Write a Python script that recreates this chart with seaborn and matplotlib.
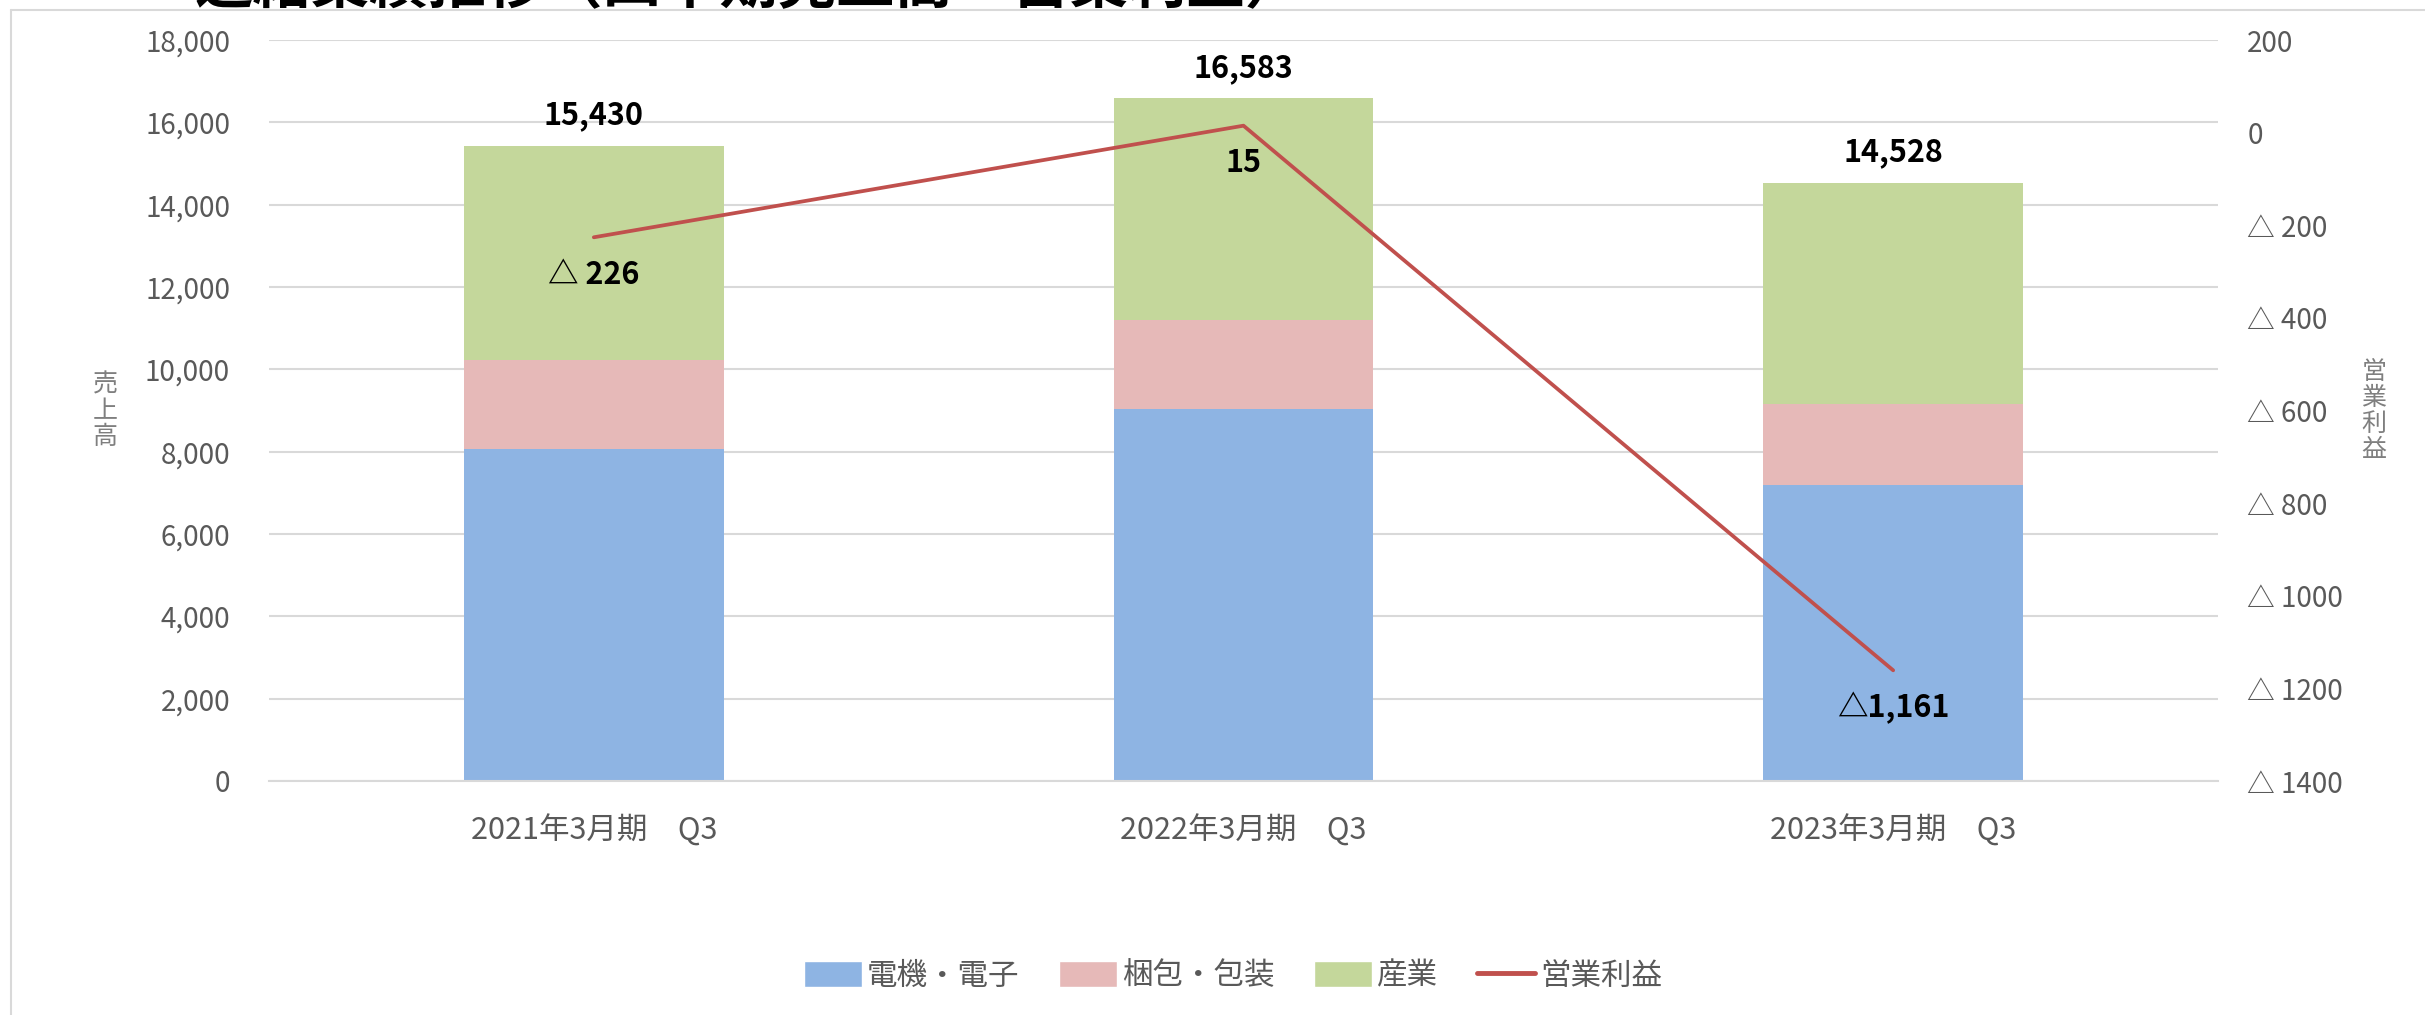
import numpy as np
import pandas as pd
import matplotlib
matplotlib.use("Agg")
import matplotlib.pyplot as plt
from matplotlib.patches import Patch
from matplotlib.lines import Line2D
import seaborn as sns

# ---------------- data ----------------
categories = ["2021年3月期　Q3", "2022年3月期　Q3", "2023年3月期　Q3"]
denki = [8070, 9040, 7190]        # 電機・電子
konpou = [2150, 2170, 1970]       # 梱包・包装
sangyo = [5210, 5373, 5368]       # 産業
totals = [15430, 16583, 14528]
profit = [-226, 15, -1161]        # 営業利益
profit_labels = ["△ 226", "15", "△1,161"]
series_names = ["電機・電子", "梱包・包装", "産業", "営業利益"]
left_ticks = list(range(0, 18001, 2000))
right_ticks = list(range(-1400, 201, 200))
title = "連結業績推移（四半期売上高・営業利益）"

# ---------------- style ----------------
sns.set_style("white")
plt.rcParams["font.family"] = ["Noto Sans CJK JP", "DejaVu Sans"]

C_BLUE = "#8EB4E3"
C_PINK = "#E6B9B8"
C_GREEN = "#C4D79B"
C_LINE = "#C0504D"
C_GRID = "#D9D9D9"
C_TXT = "#595959"

W, H, DPI = 2425, 1015, 100
fig = plt.figure(figsize=(W / DPI, H / DPI), dpi=DPI)
fig.patch.set_facecolor("white")

left, right, top, bottom = 269, 2218, 40, 781
ax = fig.add_axes([left / W, 1 - bottom / H, (right - left) / W, (bottom - top) / H])

df = pd.DataFrame({"cat": categories, "denki": denki, "konpou": konpou, "sangyo": sangyo})
df["c2"] = df["denki"] + df["konpou"]
df["c3"] = df["c2"] + df["sangyo"]

for col, colr in [("c3", C_GREEN), ("c2", C_PINK), ("denki", C_BLUE)]:
    sns.barplot(data=df, x="cat", y=col, color=colr, saturation=1, width=0.4,
                linewidth=0, ax=ax, errorbar=None)

ax.set_xlim(-0.5, len(categories) - 0.5)
ax.set_ylim(0, 18000)
ax.set_yticks(left_ticks)
ax.set_yticklabels([f"{v:,}" for v in left_ticks])
ax.set_axisbelow(True)
ax.yaxis.grid(True, color=C_GRID, linewidth=1.5)
ax.xaxis.grid(False)
for s in ax.spines.values():
    s.set_visible(False)
ax.spines["bottom"].set_visible(True)
ax.spines["bottom"].set_color(C_GRID)
ax.spines["bottom"].set_linewidth(1.5)
ax.set_xlabel("")
ax.set_ylabel("")
ax.tick_params(axis="y", length=0, pad=28, labelsize=20, labelcolor=C_TXT)
ax.tick_params(axis="x", length=0, pad=24, labelsize=22, labelcolor=C_TXT)

# totals above bars
for i, t in enumerate(totals):
    ax.annotate(f"{t:,}", xy=(i, t), xytext=(0, 22), textcoords="offset points",
                ha="center", va="center", fontsize=22, fontweight="bold", color="black")

# secondary axis: operating profit
ax2 = ax.twinx()
xpos = np.arange(len(categories))
sns.lineplot(x=xpos, y=profit, ax=ax2, color=C_LINE, linewidth=2.7, sort=False)
ax2.set_ylim(-1400, 200)
ax2.set_yticks(right_ticks)
ax2.set_yticklabels([("△ " + str(abs(v))) if v < 0 else str(v) for v in right_ticks])
ax2.grid(False)
for s in ax2.spines.values():
    s.set_visible(False)
ax2.tick_params(axis="y", length=0, pad=21, labelsize=20, labelcolor=C_TXT)
ax2.set_ylabel("")
for i, (v, lab) in enumerate(zip(profit, profit_labels)):
    ax2.annotate(lab, xy=(i, v), xytext=(0, -27), textcoords="offset points",
                 ha="center", va="center", fontsize=22, fontweight="bold", color="black")

# vertical axis titles (stacked characters)
fig.text(105 / W, 1 - 411 / H, "\n".join("売上高"), ha="center", va="center",
         fontsize=18, color="#7F7F7F", linespacing=1.0)
fig.text(2374 / W, 1 - 411 / H, "\n".join("営業利益"), ha="center", va="center",
         fontsize=18, color="#7F7F7F", linespacing=1.0)

# legend
handles = [Patch(facecolor=C_BLUE), Patch(facecolor=C_PINK), Patch(facecolor=C_GREEN),
           Line2D([0], [0], color=C_LINE, linewidth=3.5)]
fig.legend(handles, series_names, loc="center", bbox_to_anchor=(1233 / W, 1 - 976 / H),
           ncol=4, frameon=False, fontsize=22, labelcolor=C_TXT, handlelength=1.9,
           handleheight=0.9, handletextpad=0.15, columnspacing=1.3)

# chart frame (top and left border)
fig.add_artist(Line2D([11 / W, 11 / W], [0, 1 - 10 / H], color=C_GRID, linewidth=1.5))
fig.add_artist(Line2D([11 / W, 1], [1 - 10 / H, 1 - 10 / H], color=C_GRID, linewidth=1.5))

# partially visible slide title above the chart (cropped as in the reference)
fig.text(194 / W, 1 - 3 / H, title, ha="left", va="baseline", fontsize=42,
         fontweight="bold", color="black")

fig.savefig("out.png", dpi=DPI, facecolor="white")
